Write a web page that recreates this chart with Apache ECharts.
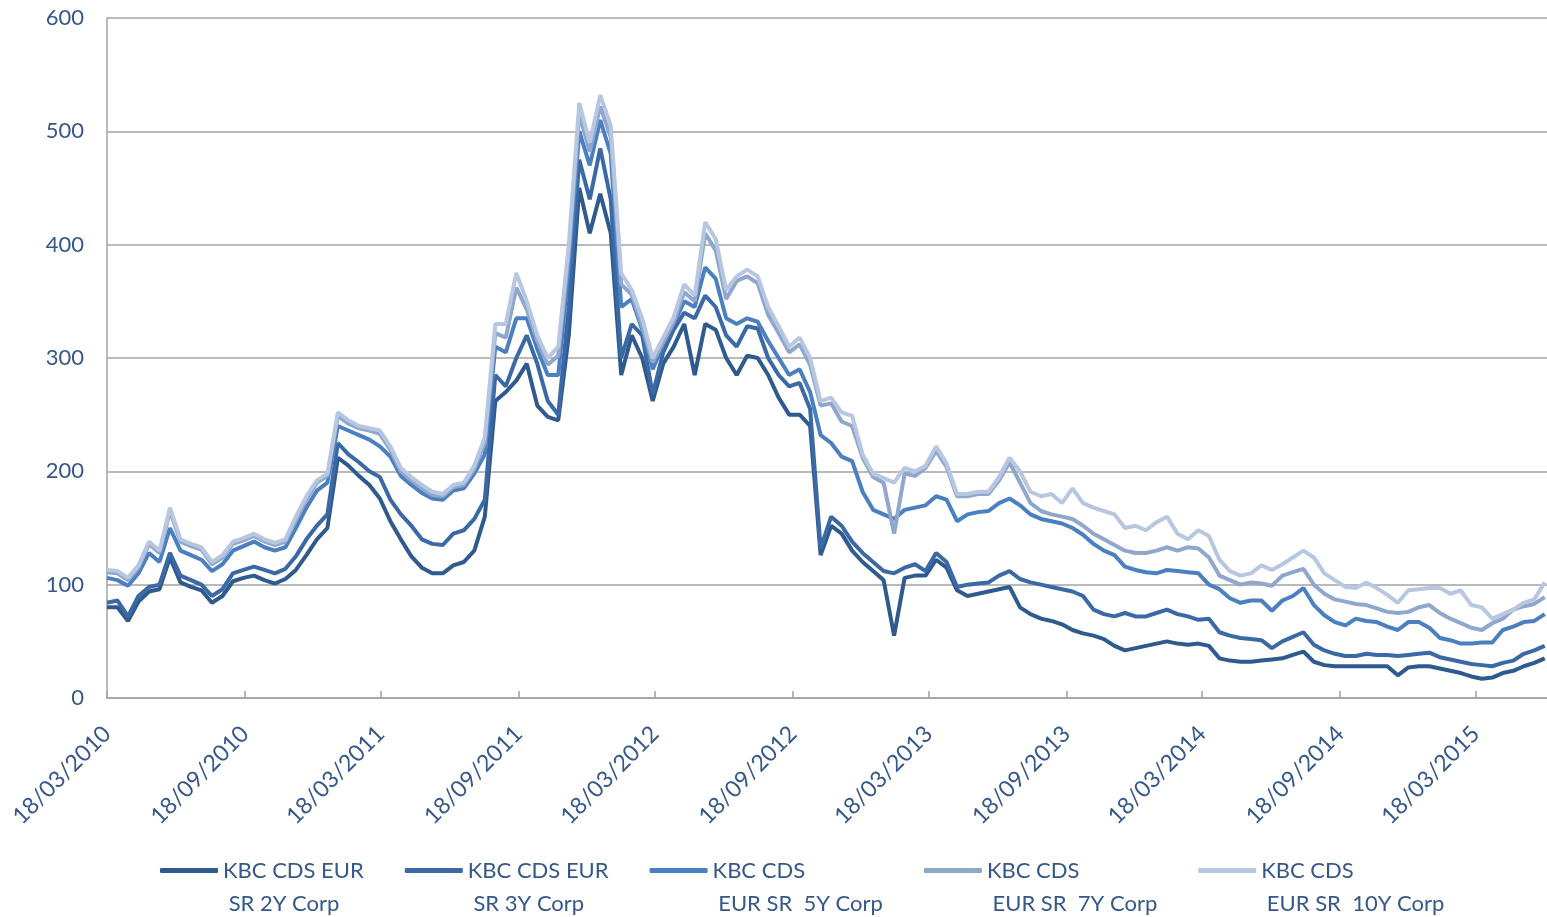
<!DOCTYPE html>
<html><head><meta charset="utf-8">
<script src="https://cdn.jsdelivr.net/npm/echarts@6/dist/echarts.min.js"></script>
<style>html,body{margin:0;padding:0;background:#fff}#c{width:1547px;height:917px}</style>
</head><body><div id="c"></div>
<script>
const dates = [
'2010-03-18','2010-04-01','2010-04-15','2010-04-29','2010-05-13','2010-05-27','2010-06-10','2010-06-24','2010-07-08','2010-07-22',
'2010-08-05','2010-08-19','2010-09-02','2010-09-16','2010-09-30','2010-10-14','2010-10-28','2010-11-11','2010-11-25','2010-12-09',
'2010-12-23','2011-01-06','2011-01-20','2011-02-03','2011-02-17','2011-03-03','2011-03-17','2011-03-31','2011-04-14','2011-04-28',
'2011-05-12','2011-05-26','2011-06-09','2011-06-23','2011-07-07','2011-07-21','2011-08-04','2011-08-18','2011-09-01','2011-09-15',
'2011-09-29','2011-10-13','2011-10-27','2011-11-10','2011-11-24','2011-12-08','2011-12-22','2012-01-05','2012-01-19','2012-02-02',
'2012-02-16','2012-03-01','2012-03-15','2012-03-29','2012-04-12','2012-04-26','2012-05-10','2012-05-24','2012-06-07','2012-06-21',
'2012-07-05','2012-07-19','2012-08-02','2012-08-16','2012-08-30','2012-09-13','2012-09-27','2012-10-11','2012-10-25','2012-11-08',
'2012-11-22','2012-12-06','2012-12-20','2013-01-03','2013-01-17','2013-01-31','2013-02-14','2013-02-28','2013-03-14','2013-03-28',
'2013-04-11','2013-04-25','2013-05-09','2013-05-23','2013-06-06','2013-06-20','2013-07-04','2013-07-18','2013-08-01','2013-08-15',
'2013-08-29','2013-09-12','2013-09-26','2013-10-10','2013-10-24','2013-11-07','2013-11-21','2013-12-05','2013-12-19','2014-01-02',
'2014-01-16','2014-01-30','2014-02-13','2014-02-27','2014-03-13','2014-03-27','2014-04-10','2014-04-24','2014-05-08','2014-05-22',
'2014-06-05','2014-06-19','2014-07-03','2014-07-17','2014-07-31','2014-08-14','2014-08-28','2014-09-11','2014-09-25','2014-10-09',
'2014-10-23','2014-11-06','2014-11-20','2014-12-04','2014-12-18','2015-01-01','2015-01-15','2015-01-29','2015-02-12','2015-02-26',
'2015-03-12','2015-03-26','2015-04-09','2015-04-23','2015-05-07','2015-05-21','2015-06-04','2015-06-18'
];

const cds2Y = [
80,80,68,85,94,96,124,102,98,95,84,90,103,106,108,104,101,105,113,126,140,150,
212,205,196,188,176,156,140,125,115,110,110,117,120,130,160,262,270,280,295,258,248,245,320,450,410,445,410,285,320,300,
262,295,310,330,285,330,325,300,285,302,300,285,265,250,250,240,126,152,145,130,120,112,104,55,106,108,
108,122,115,95,90,92,94,96,98,80,74,70,68,65,60,57,55,52,46,42,44,46,48,50,48,47,
48,46,35,33,32,32,33,34,35,38,41,32,29,28,28,28,28,28,28,20,27,28,28,26,24,22,19,17,18,22,24,28,31,35
];
const cds3Y = [
84,86,72,90,98,100,128,108,104,100,90,96,110,113,116,113,110,114,125,140,152,162,
225,215,208,200,195,175,162,152,140,136,135,145,148,158,175,285,275,300,320,295,262,250,345,475,440,485,440,300,330,320,
268,305,325,340,335,355,345,320,310,328,326,300,285,275,278,255,132,160,152,138,128,120,112,110,115,118,
112,128,120,98,100,101,102,108,112,105,102,100,98,96,94,90,78,74,72,75,72,72,75,78,74,72,
69,70,58,55,53,52,51,44,50,54,58,47,42,39,37,37,39,38,38,37,38,39,40,36,34,32,30,29,28,31,33,39,42,46
];
const cds5Y = [
106,104,99,110,128,120,150,130,126,122,112,118,130,134,138,133,130,133,150,168,183,190,
240,236,232,228,222,213,196,188,181,176,175,183,185,198,215,310,305,335,335,308,285,285,380,500,470,510,480,345,352,325,
290,312,330,350,345,380,370,335,330,335,332,315,300,285,290,270,232,225,213,209,182,166,162,158,166,168,
170,178,175,156,162,164,165,172,176,170,162,158,156,154,150,144,136,130,126,116,113,111,110,113,112,111,
110,100,96,88,84,86,86,77,86,90,97,82,73,67,64,70,68,67,63,60,67,67,62,53,51,48,48,49,49,60,63,67,68,74
];
const cds7Y = [
111,110,104,115,136,128,165,138,134,131,118,124,136,139,143,138,135,138,157,175,190,196,
249,242,238,236,233,219,200,192,185,179,178,186,188,202,225,322,318,362,343,315,294,302,392,515,482,522,495,365,356,328,
296,314,332,358,350,410,395,352,368,372,366,338,322,305,312,294,258,260,244,240,212,195,190,145,198,196,
203,218,204,178,178,180,180,192,208,190,172,165,162,160,158,152,145,140,135,130,128,128,130,133,130,133,
132,124,108,104,100,102,101,99,108,111,114,100,92,87,85,83,82,79,76,75,76,80,82,75,70,66,62,60,66,70,78,81,83,89
];
const cds10Y = [
113,112,106,117,138,130,168,140,136,133,120,126,138,141,145,140,137,140,160,178,192,198,
252,245,240,238,236,222,203,195,188,182,180,188,190,205,230,330,330,375,350,320,300,310,400,525,490,532,505,375,360,335,
300,318,336,365,355,420,405,360,372,378,372,345,328,310,318,300,262,265,252,249,215,198,194,190,203,200,
205,222,207,180,180,182,182,195,212,200,182,178,180,172,185,172,168,165,162,150,152,148,155,160,145,140,
148,143,122,112,108,110,117,113,118,124,130,124,110,104,98,97,102,97,91,84,95,96,97,97,92,95,82,80,70,74,78,84,87,102
];

const seriesNames = ['KBC CDS EUR SR 2Y Corp','KBC CDS EUR SR 3Y Corp','KBC CDS EUR SR 5Y Corp','KBC CDS EUR SR 7Y Corp','KBC CDS EUR SR 10Y Corp'];
const legendLabels = ['KBC CDS EUR\n SR 2Y Corp','KBC CDS EUR\n SR 3Y Corp','KBC CDS\n EUR SR  5Y Corp','KBC CDS\n EUR SR  7Y Corp','KBC CDS\n EUR SR  10Y Corp'];
const seriesColors = ['#2E5A8E','#3A69A6','#4A7FC0','#8FA6CD','#B8C7E1'];
const xTickLabels = ['18/03/2010','18/09/2010','18/03/2011','18/09/2011','18/03/2012','18/09/2012','18/03/2013','18/09/2013','18/03/2014','18/09/2014','18/03/2015'];
const xEnd = '2015-06-21';

function isoTs(s){const p=s.split('-');return Date.UTC(+p[0],+p[1]-1,+p[2]);}
function dmyTs(s){const p=s.split('/');return Date.UTC(+p[2],+p[1]-1,+p[0]);}
function fmt(v){const d=new Date(v);return String(d.getUTCDate()).padStart(2,'0')+'/'+String(d.getUTCMonth()+1).padStart(2,'0')+'/'+d.getUTCFullYear();}
const tickTs = xTickLabels.map(dmyTs);
const allValues = [cds2Y,cds3Y,cds5Y,cds7Y,cds10Y];
const txt = '#35578A';
const gridCol = '#A3A3A3';
const FONT = 'Lato';

const chart = echarts.init(document.getElementById('c'), null, {renderer:'canvas'});
chart.setOption({
  animation:false,
  backgroundColor:'#fff',
  grid:{left:107,right:0,top:18,bottom:219,containLabel:false,outerBoundsMode:'none'},
  legend:{
    left:155, top:816, itemGap:41, itemWidth:58, itemHeight:5, icon:'roundRect',
    data:seriesNames,
    formatter:function(n){return '\n' + legendLabels[seriesNames.indexOf(n)];},
    textStyle:{fontFamily:FONT,fontSize:22,color:txt,lineHeight:33}
  },
  xAxis:{
    type:'value', min:tickTs[0], max:isoTs(xEnd), scale:true,
    axisLine:{show:true,lineStyle:{color:gridCol,width:1.5}},
    axisTick:{show:true,inside:true,length:7,customValues:tickTs,lineStyle:{color:gridCol,width:1.5}},
    axisLabel:{customValues:tickTs,formatter:fmt,rotate:45,fontFamily:FONT,fontSize:23,color:txt,margin:32,hideOverlap:false},
    splitLine:{show:false}
  },
  yAxis:{
    type:'value', min:0, max:600, interval:100,
    axisLine:{show:true,lineStyle:{color:gridCol,width:1.5}},
    axisTick:{show:false},
    axisLabel:{fontFamily:FONT,fontSize:22,color:txt,margin:23},
    splitLine:{show:true,lineStyle:{color:gridCol,width:1.5}}
  },
  series: seriesNames.map(function(n,i){
    return {
      name:n, type:'line', showSymbol:false, symbol:'none',
      lineStyle:{width:4,color:seriesColors[i]}, itemStyle:{color:seriesColors[i]},
      data: dates.map(function(d,j){return [isoTs(d), allValues[i][j]];})
    };
  })
});
</script></body></html>
